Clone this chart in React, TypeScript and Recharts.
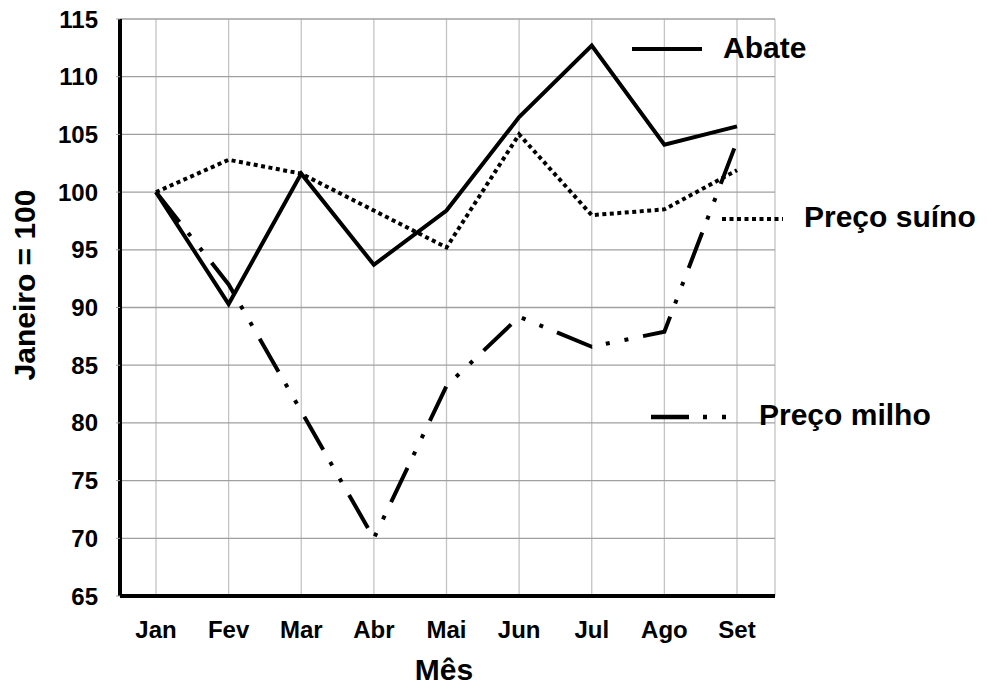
import { LineChart, Line, XAxis, YAxis, CartesianGrid } from 'recharts'

const months = ['Jan', 'Fev', 'Mar', 'Abr', 'Mai', 'Jun', 'Jul', 'Ago', 'Set']
const abate = [100, 90.3, 101.6, 93.7, 98.4, 106.5, 112.7, 104.1, 105.7]
const precoSuino = [100, 102.8, 101.6, 98.4, 95.2, 105, 98, 98.5, 101.9]
const precoMilho = [100, 92, 81, 70, 83.2, 89.2, 86.6, 87.9, 104.4]
const yTicks = [65, 70, 75, 80, 85, 90, 95, 100, 105, 110, 115]

const data = months.map((m, i) => ({
  mes: m,
  abate: abate[i],
  suino: precoSuino[i],
  milho: precoMilho[i],
}))

const FONT = '"Liberation Sans", Arial, Helvetica, sans-serif'
const SUINO_DASH = '4 3.5'
const MILHO_DASH = '38 14 4 15 4 15'

const tickStyle = { fill: '#000', fontSize: 24, fontWeight: 700, fontFamily: FONT }

function Overlay() {
  const txt = { fontFamily: FONT, fontWeight: 700, fontSize: 30, fill: '#000' }
  return (
    <svg width={987} height={687} style={{ position: 'absolute', left: 0, top: 0, pointerEvents: 'none' }}>
      {/* legend */}
      <line x1={632} y1={49} x2={702} y2={49} stroke="#000" strokeWidth={4} />
      <text x={723} y={58} {...txt}>Abate</text>
      <line x1={722} y1={219} x2={783} y2={219} stroke="#000" strokeWidth={4} strokeDasharray={SUINO_DASH} />
      <text x={804} y={227} {...txt}>Preço suíno</text>
      <line x1={651} y1={417} x2={729} y2={417} stroke="#000" strokeWidth={4.5} strokeDasharray={MILHO_DASH} />
      <text x={759} y={425} {...txt}>Preço milho</text>
      {/* axis titles */}
      <text x={444} y={680} textAnchor="middle" {...txt}>Mês</text>
      <text x={35} y={285} textAnchor="middle" transform="rotate(-90 35 285)" {...txt}>Janeiro = 100</text>
    </svg>
  )
}

export default function App() {
  return (
    <div style={{ position: 'absolute', left: 0, top: 0, width: 987, height: 687, background: '#fff' }}>
      <LineChart width={987} height={687} data={data} margin={{ top: 19, right: 212, left: 0, bottom: 0 }}>
        <CartesianGrid horizontal={false} stroke="#c4c4c4" strokeWidth={1.3} />
        <CartesianGrid vertical={false} stroke="#a0a0a0" strokeWidth={1.3} />
        <XAxis
          dataKey="mes"
          height={91}
          padding={{ left: 36, right: 38 }}
          axisLine={{ stroke: '#000', strokeWidth: 4 }}
          tickLine={false}
          tickMargin={19}
          tick={tickStyle}
          interval={0}
        />
        <YAxis
          width={120}
          domain={[65, 115]}
          ticks={yTicks}
          allowDataOverflow
          axisLine={{ stroke: '#000', strokeWidth: 4 }}
          tickLine={{ stroke: '#a0a0a0' }}
          tickSize={4}
          tickMargin={18}
          tick={tickStyle}
        />
        <Line dataKey="milho" type="linear" stroke="#000" strokeWidth={4} strokeDasharray={MILHO_DASH} dot={false} isAnimationActive={false} />
        <Line dataKey="suino" type="linear" stroke="#000" strokeWidth={4} strokeDasharray={SUINO_DASH} dot={false} isAnimationActive={false} />
        <Line dataKey="abate" type="linear" stroke="#000" strokeWidth={4} dot={false} isAnimationActive={false} />
      </LineChart>
      <Overlay />
    </div>
  )
}
